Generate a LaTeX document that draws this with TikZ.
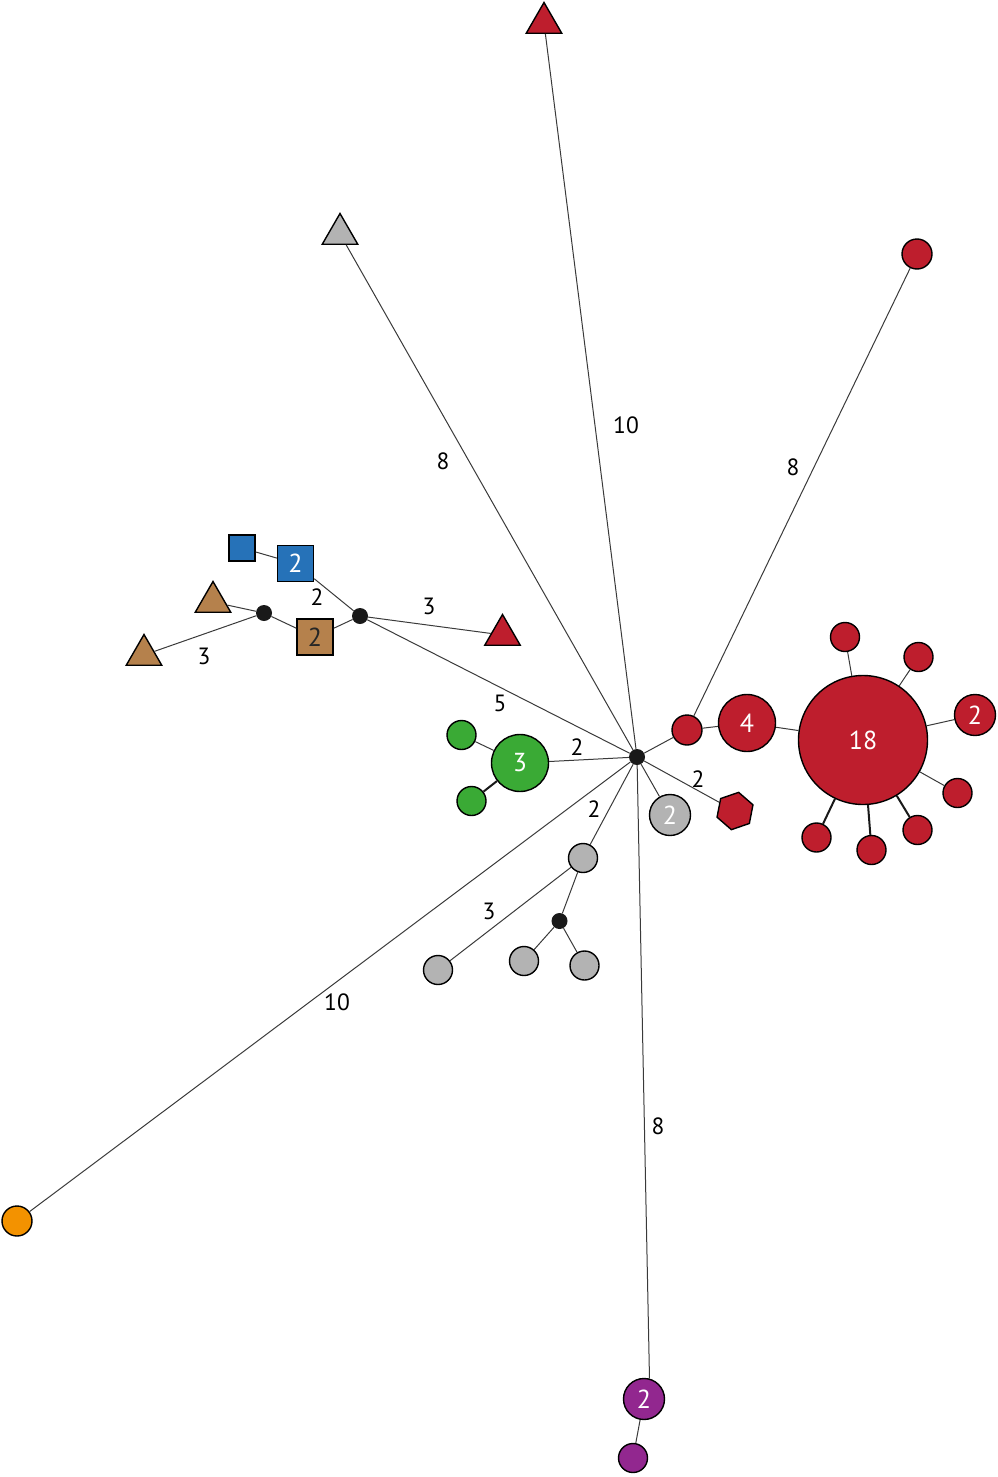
\documentclass[tikz,border=0pt]{standalone}
\usepackage{fontspec}
\setmainfont{PT Sans}
\usetikzlibrary{shapes.geometric}
\definecolor{cred}{HTML}{BE1E2D}
\definecolor{cgreen}{HTML}{3AAA35}
\definecolor{cblue}{HTML}{2672B8}
\definecolor{cbrown}{HTML}{B5814C}
\definecolor{cgray}{HTML}{B3B3B3}
\definecolor{corange}{HTML}{F39200}
\definecolor{cpurple}{HTML}{92278F}
\definecolor{edgec}{HTML}{3A3A3A}
\newcommand{\innerfont}{\fontsize{26}{28}\selectfont}
\newcommand{\labfont}{\fontsize{23.5}{25}\selectfont}
\tikzset{
  base/.style={draw=black, line width=1.4pt, inner sep=0pt, text=white, font=\innerfont},
  hubdot/.style={circle, fill=black!90, draw=none, minimum size=16pt, inner sep=0pt},
  redc/.style={base, circle, fill=cred},
  greenc/.style={base, circle, fill=cgreen},
  grayc/.style={base, circle, fill=cgray},
  orangec/.style={base, circle, fill=corange},
  purplec/.style={base, circle, fill=cpurple},
  bluesq/.style={base, rectangle, fill=cblue},
  brownsq/.style={base, rectangle, fill=cbrown, text=black!85},
  tri/.style={base, regular polygon, regular polygon sides=3, minimum size=41pt},
  redtri/.style={tri, fill=cred},
  graytri/.style={tri, fill=cgray},
  browntri/.style={tri, fill=cbrown},
  redhex/.style={base, regular polygon, regular polygon sides=6, shape border rotate=19, minimum size=38pt, fill=cred},
  edgeline/.style={draw=edgec, line width=1pt},
  thickedge/.style={draw=black!90, line width=2pt},
  lbl/.style={font=\labfont, text=black, inner sep=0pt}
}
\begin{document}
\begin{tikzpicture}[x=1pt,y=-1pt]
\useasboundingbox (0,0) rectangle (998,1477);
% nodes
\node[hubdot] (hub) at (637,757) {};
\node[redtri] (ttop) at (544,23) {};
\node[graytri] (tgray) at (340,234) {};
\node[redc, minimum size=30pt] (rtr) at (917,254) {};
\node[hubdot] (h1) at (360,616) {};
\node[hubdot] (h2) at (264,613) {};
\node[bluesq, minimum size=26pt] (b1) at (242,548) {};
\node[bluesq, minimum size=36pt] (b2) at (295.5,563.5) {2};
\node[brownsq, minimum size=36pt] (br2) at (315,637) {2};
\node[browntri] (bt1) at (213,602) {};
\node[browntri] (bt2) at (144,655) {};
\node[redtri] (rtm) at (502.5,635) {};
\node[greenc, minimum size=57pt] (g3) at (520,763) {3};
\node[greenc, minimum size=29pt] (g1) at (461.5,735) {};
\node[greenc, minimum size=29pt] (g2) at (471.5,801) {};
\node[redc, minimum size=30pt] (rs) at (687,730) {};
\node[redc, minimum size=57pt] (r4) at (747,723) {4};
\node[redc, minimum size=129pt] (r18) at (863,740) {18};
\node[redc, minimum size=29pt] (s1) at (845,637) {};
\node[redc, minimum size=29pt] (s2) at (918.5,657) {};
\node[redc, minimum size=41pt] (s3) at (975,715) {2};
\node[redc, minimum size=29pt] (s4) at (957.5,793) {};
\node[redc, minimum size=29pt] (s5) at (917.5,830) {};
\node[redc, minimum size=29pt] (s6) at (871.5,850) {};
\node[redc, minimum size=29pt] (s7) at (816.5,837.5) {};
\node[grayc, minimum size=41pt] (gy2) at (670,815) {2};
\node[redhex] (hex) at (735,811) {};
\node[grayc, minimum size=29pt] (gA) at (583,858) {};
\node[hubdot] (gh) at (559.5,921) {};
\node[grayc, minimum size=29pt] (gL1) at (438,970) {};
\node[grayc, minimum size=29pt] (gL2) at (524,961) {};
\node[grayc, minimum size=29pt] (gL3) at (584.5,965.5) {};
\node[orangec, minimum size=30pt] (or) at (17,1221) {};
\node[purplec, minimum size=41pt] (p2) at (644,1399) {2};
\node[purplec, minimum size=29pt] (p1) at (633,1458) {};
% edges
\draw[edgeline] (hub) -- (ttop);
\draw[edgeline] (hub) -- (tgray);
\draw[edgeline] (rs) -- (rtr);
\draw[edgeline] (hub) -- (h1);
\draw[edgeline] (h1) -- (b2);
\draw[edgeline] (b2) -- (b1);
\draw[edgeline] (h1) -- (rtm);
\draw[edgeline] (h1) -- (br2);
\draw[edgeline] (br2) -- (h2);
\draw[edgeline] (h2) -- (bt1);
\draw[edgeline] (h2) -- (bt2);
\draw[edgeline] (hub) -- (g3);
\draw[edgeline] (g3) -- (g1);
\draw[thickedge] (g3) -- (g2);
\draw[edgeline] (hub) -- (rs);
\draw[edgeline] (rs) -- (r4);
\draw[edgeline] (r4) -- (r18);
\draw[edgeline] (r18) -- (s1);
\draw[edgeline] (r18) -- (s2);
\draw[edgeline] (r18) -- (s3);
\draw[edgeline] (r18) -- (s4);
\draw[thickedge] (r18) -- (s5);
\draw[thickedge] (r18) -- (s6);
\draw[thickedge] (r18) -- (s7);
\draw[edgeline] (hub) -- (gy2);
\draw[edgeline] (hub) -- (hex);
\draw[edgeline] (hub) -- (gA);
\draw[edgeline] (gA) -- (gh);
\draw[edgeline] (gA) -- (gL1);
\draw[edgeline] (gh) -- (gL2);
\draw[edgeline] (gh) -- (gL3);
\draw[edgeline] (hub) -- (or);
\draw[edgeline] (hub) -- (p2.75);
\draw[edgeline] (p2) -- (p1);
% edge labels
\node[lbl] (l1) at (626,425) {10};
\node[lbl] (l2) at (443,461) {8};
\node[lbl] (l3) at (793,467) {8};
\node[lbl] (l4) at (317,597) {2};
\node[lbl] (l5) at (429,606) {3};
\node[lbl] (l6) at (204,656) {3};
\node[lbl] (l7) at (500,703) {5};
\node[lbl] (l8) at (577,747) {2};
\node[lbl] (l9) at (698,779) {2};
\node[lbl] (l10) at (594,809) {2};
\node[lbl] (l11) at (489,911) {3};
\node[lbl] (l12) at (337,1002) {10};
\node[lbl] (l13) at (658,1126) {8};
\end{tikzpicture}
\end{document}
